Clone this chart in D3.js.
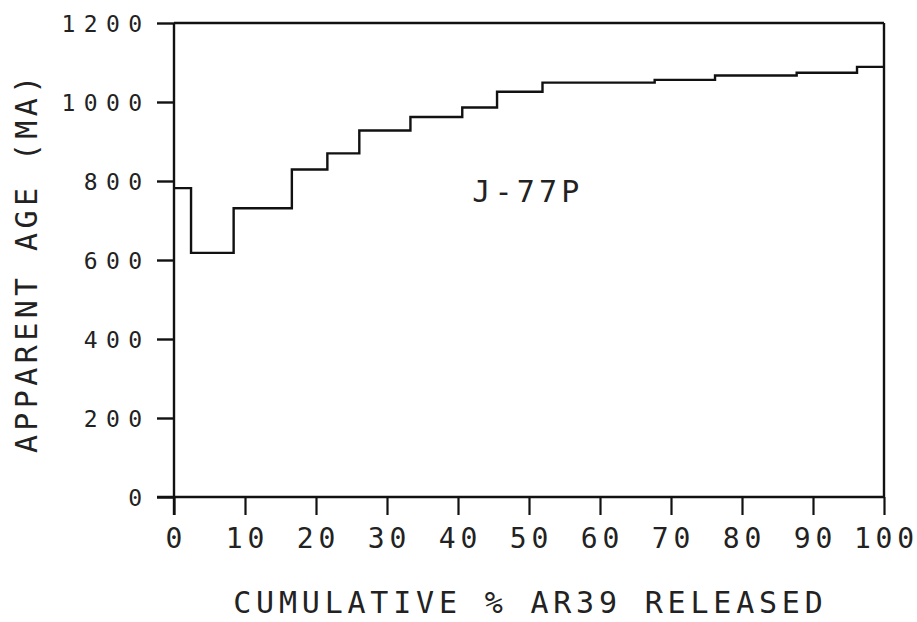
<!DOCTYPE html>
<html>
<head>
<meta charset="utf-8">
<script src="https://cdn.jsdelivr.net/npm/d3@7"></script>
<style>
  html, body { margin: 0; padding: 0; background: #fff; }
  svg { display: block; }
  text { font-family: "DejaVu Sans Mono", monospace; fill: #222; }
</style>
</head>
<body>
<script>
// ---- data ----
const stepBounds = [0, 2.4, 8.4, 16.6, 21.6, 26.1, 33.3, 40.6, 45.5, 51.9, 67.7, 76.2, 87.7, 96.2, 100]; // cumulative % Ar39 released
const stepAges   = [782, 618, 731, 829, 870, 928, 962, 986, 1026, 1049, 1056, 1067, 1074, 1089];     // apparent age (Ma)
const xTicks = [0, 10, 20, 30, 40, 50, 60, 70, 80, 90, 100];
const yTicks = [0, 200, 400, 600, 800, 1000, 1200];
const sampleLabel = "J-77P";
const xTitle = "CUMULATIVE % AR39 RELEASED";
const yTitle = "APPARENT AGE (MA)";

const W = 917, H = 622;
const svg = d3.select("body").append("svg").attr("width", W).attr("height", H);

const x = d3.scaleLinear().domain([0, 100]).range([174, 884]);
const y = d3.scaleLinear().domain([0, 1200]).range([497, 23]);

const ink = "#111";

// frame: top and right lines
svg.append("line").attr("x1", x(0)).attr("x2", x(100)).attr("y1", y(1200)).attr("y2", y(1200))
  .attr("stroke", ink).attr("stroke-width", 2.4);
svg.append("line").attr("x1", x(100)).attr("x2", x(100)).attr("y1", y(1200)).attr("y2", y(0))
  .attr("stroke", ink).attr("stroke-width", 2.4);

// left axis
const yAxis = d3.axisLeft(y).tickValues(yTicks).tickSize(17).tickPadding(0).tickFormat("");
const gy = svg.append("g").attr("transform", `translate(${x(0)},0)`).call(yAxis);
gy.select(".domain").attr("d", `M0,${y(1200)}V${y(0) + 18}`).attr("stroke", ink).attr("stroke-width", 2.4);
gy.selectAll(".tick line").attr("stroke", ink).attr("stroke-width", 2.4);

// bottom axis
const xAxis = d3.axisBottom(x).tickValues(xTicks).tickSize(18).tickPadding(0).tickFormat("");
const gx = svg.append("g").attr("transform", `translate(0,${y(0)})`).call(xAxis);
gx.select(".domain").attr("d", `M${x(0) - 17},0H${x(100)}`).attr("stroke", ink).attr("stroke-width", 2.4);
gx.selectAll(".tick line").attr("stroke", ink).attr("stroke-width", 2.2);

// y tick labels
const ySpacing = 8.4;
svg.append("g").selectAll("text").data(yTicks).join("text")
  .attr("x", 142 + ySpacing)
  .attr("y", d => y(d) + 8.6)
  .attr("text-anchor", "end")
  .attr("font-size", 23)
  .attr("letter-spacing", ySpacing)
  .text(d => d);

// x tick labels (letter-spacing set per glyph via tspans so no trailing gap)
const xSpacing = 4.8;
svg.append("g").selectAll("text").data(xTicks).join("text")
  .attr("x", d => x(d))
  .attr("y", 548)
  .attr("text-anchor", "middle")
  .attr("font-size", 28)
  .each(function(d) {
    const s = String(d);
    const t = d3.select(this);
    s.split("").forEach((ch, i) => {
      t.append("tspan").attr("dx", i === 0 ? 0 : xSpacing).text(ch);
    });
  });

// axis titles
svg.append("text")
  .attr("x", 528 + 2.4).attr("y", 613)
  .attr("text-anchor", "middle")
  .attr("font-size", 30)
  .attr("letter-spacing", 4.8)
  .text(xTitle);

svg.append("text")
  .attr("transform", `translate(37,${260 + 2.2}) rotate(-90)`)
  .attr("text-anchor", "middle")
  .attr("font-size", 30)
  .attr("letter-spacing", 4.4)
  .text(yTitle);

// step spectrum
const stepData = [];
stepAges.forEach((a, i) => {
  stepData.push([stepBounds[i], a]);
  stepData.push([stepBounds[i + 1], a]);
});
const line = d3.line().x(d => x(d[0])).y(d => y(d[1]));
svg.append("path").datum(stepData)
  .attr("d", line)
  .attr("fill", "none")
  .attr("stroke", ink)
  .attr("stroke-width", 2.4);

// sample label
svg.append("text")
  .attr("x", x(42.0)).attr("y", y(775) + 11)
  .attr("font-size", 30)
  .attr("letter-spacing", 4.2)
  .text(sampleLabel);
</script>
</body>
</html>
